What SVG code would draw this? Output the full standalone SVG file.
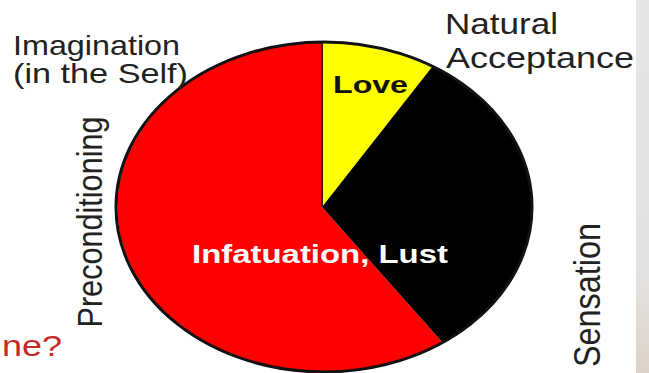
<svg xmlns="http://www.w3.org/2000/svg" width="649" height="373" viewBox="0 0 649 373">
  <defs>
    <linearGradient id="strip" x1="0" y1="0" x2="0" y2="1">
      <stop offset="0" stop-color="#e6e6e6"/>
      <stop offset="0.75" stop-color="#e4e2e0"/>
      <stop offset="1" stop-color="#ddd2c8"/>
    </linearGradient>
  </defs>
  <style>
    .lbl { font-family: "Liberation Sans", Arial, sans-serif; fill: #222; }
    .in { font-family: "Liberation Sans", Arial, sans-serif; font-weight: bold; }
  </style>
  <rect x="0" y="0" width="649" height="373" fill="#ffffff"/>
  <rect x="636" y="0" width="13" height="373" fill="url(#strip)"/>

  <g id="pie">
    <g id="wedge-infatuation">
      <path d="M322,207 L443,343 A208,165 0 1 1 322,42 Z" fill="#ff0000"/>
    </g>
    <g id="wedge-love">
      <path d="M322,207 L322,42 A208,165 0 0 1 432,67 Z" fill="#ffff00"/>
    </g>
    <g id="wedge-sensation">
      <path d="M322,207 L432,67 A208,165 0 0 1 443,343 Z" fill="#000000"/>
    </g>
    <line x1="322" y1="43" x2="322" y2="207" stroke="#5a0a0a" stroke-width="2"/>
    <ellipse cx="324" cy="207" rx="208" ry="165" fill="none" stroke="#111" stroke-width="3"/>
  </g>

  <g id="labels-inside">
    <text class="in" x="333" y="93" font-size="23" fill="#111" textLength="75" lengthAdjust="spacingAndGlyphs">Love</text>
    <text class="in" x="192" y="263" font-size="25" fill="#ffffff" textLength="256" lengthAdjust="spacingAndGlyphs">Infatuation, Lust</text>
  </g>

  <g id="label-imagination">
    <text class="lbl" x="13" y="55" font-size="28" textLength="167" lengthAdjust="spacingAndGlyphs">Imagination</text>
    <text class="lbl" x="13" y="83" font-size="28" textLength="175" lengthAdjust="spacingAndGlyphs">(in the Self)</text>
  </g>
  <g id="label-natural-acceptance">
    <text class="lbl" x="445" y="34" font-size="29" textLength="113" lengthAdjust="spacingAndGlyphs">Natural</text>
    <text class="lbl" x="446" y="68" font-size="30" textLength="188" lengthAdjust="spacingAndGlyphs">Acceptance</text>
  </g>
  <g id="label-preconditioning">
    <text class="lbl" transform="translate(102,222) scale(1.12,1) rotate(-90)" x="0" y="0" font-size="31" text-anchor="middle" textLength="211" lengthAdjust="spacingAndGlyphs">Preconditioning</text>
  </g>
  <g id="label-sensation">
    <text class="lbl" transform="translate(600,295) scale(1.18,1) rotate(-90)" x="0" y="0" font-size="32" text-anchor="middle" textLength="144" lengthAdjust="spacingAndGlyphs">Sensation</text>
  </g>
  <g id="label-question">
    <text x="2" y="356" font-family="Liberation Sans, Arial, sans-serif" font-size="29" fill="#c62828" textLength="60" lengthAdjust="spacingAndGlyphs">ne?</text>
  </g>
</svg>
